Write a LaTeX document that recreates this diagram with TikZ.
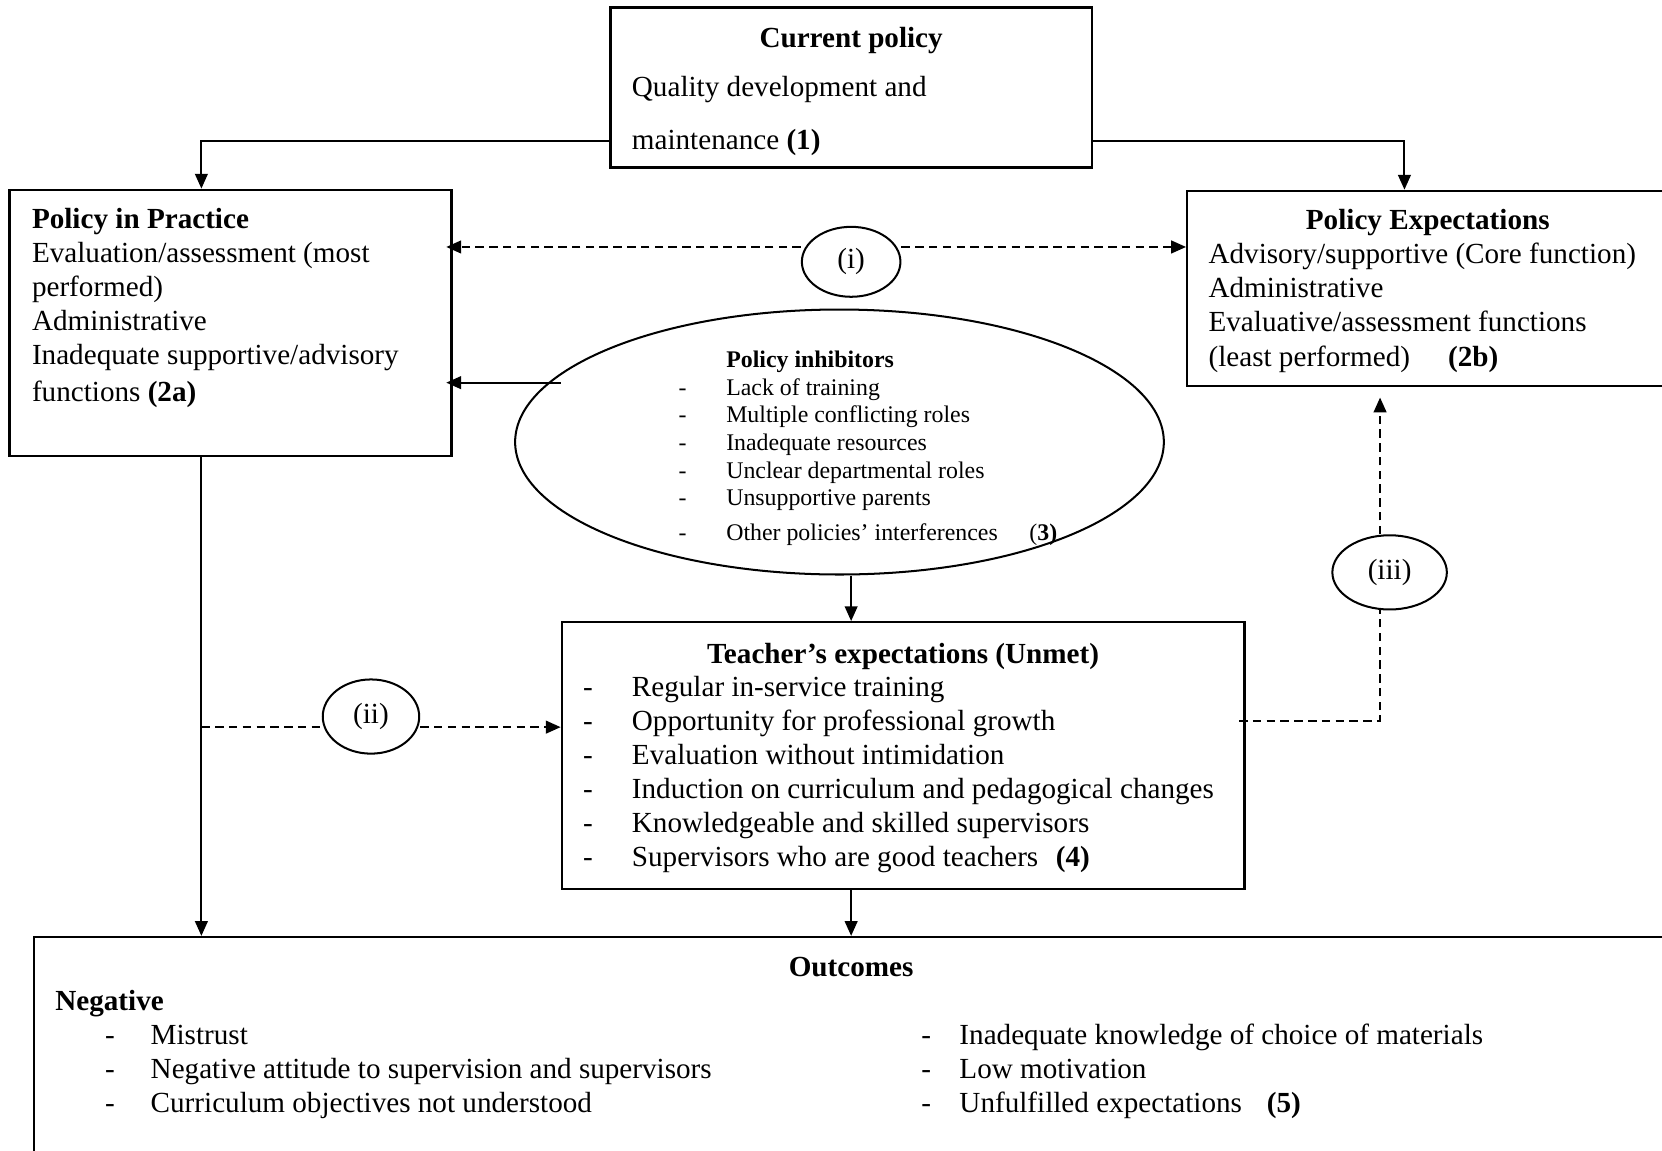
\documentclass[tikz,border=0pt]{standalone}
\usepackage{fontspec}
\setmainfont{Liberation Serif}
\usetikzlibrary{arrows.meta,shapes.geometric,calc}
\begin{document}
\begin{tikzpicture}[x=1pt,y=-1pt,
  box/.style={draw,line width=2.1pt,rectangle,inner sep=0pt},
  oval/.style={draw,line width=1.9pt,ellipse,inner sep=0pt,font=\fontsize{27.5}{32}\selectfont},
  arr/.style={line width=1.9pt,-{Triangle[length=14pt,width=12pt]}},
  dline/.style={line width=1.9pt,dash pattern=on 8pt off 5pt},
  darr/.style={dline,-{Triangle[length=14pt,width=12pt]}},
  tx/.style={anchor=west,inner sep=0pt,font=\fontsize{27.5}{32}\selectfont,text height=22pt,text depth=3pt},
  txb/.style={tx,font=\fontsize{27.5}{32}\selectfont\bfseries},
  sx/.style={anchor=west,inner sep=0pt,font=\fontsize{22.5}{26}\selectfont,text height=18pt,text depth=2pt},
  sxb/.style={sx,font=\fontsize{22.5}{26}\selectfont\bfseries}
]
\useasboundingbox (0,0) rectangle (1568,1085);

% ---------- boxes and ovals ----------
\node[box,minimum width=454pt,minimum height=151pt] (cur) at (803,82.5) {};
\node[box,minimum width=417pt,minimum height=251pt] (ppr) at (217.5,304.5) {};
\node[box,minimum width=480pt,minimum height=184pt] (pex) at (1360,272) {};
\node[oval,minimum width=612pt,minimum height=250pt] (inh) at (792,417) {};
\node[oval,minimum width=93pt,minimum height=66pt] (ci) at (803,247) {(i)};
\node[box,minimum width=644pt,minimum height=252pt] (tea) at (852,713) {};
\node[oval,minimum width=91pt,minimum height=70pt] (cii) at (350,676) {(ii)};
\node[oval,minimum width=108pt,minimum height=70pt] (ciii) at (1311,540) {(iii)};
\node[box,minimum width=1568pt,minimum height=232pt] (out) at (816,1000) {};

% ---------- texts: current policy ----------
\node[txb,anchor=center] (curT) at (803,35) {Current policy};
\node[tx] (cur1) at (596,82) {Quality development and};
\node[tx] (cur2) at (596,132) {maintenance \textbf{(1)}};

% ---------- policy in practice ----------
\node[txb] (pprT) at (30,206) {Policy in Practice};
\node[tx] (ppr1) at (30,238) {Evaluation/assessment (most};
\node[tx] (ppr2) at (30,270) {performed)};
\node[tx] (ppr3) at (30,302) {Administrative};
\node[tx] (ppr4) at (30,334) {Inadequate supportive/advisory};
\node[tx] (ppr5) at (30,369) {functions \textbf{(2a)}};

% ---------- policy expectations ----------
\node[txb,anchor=center] (pexT) at (1347,207) {Policy Expectations};
\node[tx] (pex1) at (1140,239) {Advisory/supportive (Core function)};
\node[tx] (pex2) at (1140,271) {Administrative};
\node[tx] (pex3) at (1140,303) {Evaluative/assessment functions};
\node[tx] (pex4) at (1140,336) {(least performed)};
\node[txb] (pex5) at (1366,336) {(2b)};

% ---------- policy inhibitors ----------
\node[sxb] (inhT) at (685,339) {Policy inhibitors};
\foreach \yy/\t [count=\i] in {365/Lack of training,391/Multiple conflicting roles,417/Inadequate resources,443/Unclear departmental roles,469/Unsupportive parents,502/Other policies’ interferences}{
  \node[sx] (inhd\i) at (640,\yy) {-};
  \node[sx] (inh\i) at (685,\yy) {\t};
}
\node[sx] (inhN) at (971,502) {(\textbf{3)}};

% ---------- teacher's expectations ----------
\node[txb,anchor=center] (teaT) at (852,616) {Teacher’s expectations (Unmet)};
\foreach \yy/\t [count=\i] in {648/Regular in-service training,680/Opportunity for professional growth,712/Evaluation without intimidation,744/Induction on curriculum and pedagogical changes,776/Knowledgeable and skilled supervisors,808/Supervisors who are good teachers}{
  \node[tx] (tead\i) at (550,\yy) {-};
  \node[tx] (tea\i) at (596,\yy) {\t};
}
\node[txb] (teaN) at (996,808) {(4)};

% ---------- outcomes ----------
\node[txb,anchor=center] (outT) at (803,912) {Outcomes};
\node[txb] (outN) at (52,944) {Negative};
\foreach \yy/\t [count=\i] in {976/Mistrust,1008/Negative attitude to supervision and supervisors,1040/Curriculum objectives not understood}{
  \node[tx] (outld\i) at (99,\yy) {-};
  \node[tx] (outl\i) at (142,\yy) {\t};
}
\foreach \yy/\t [count=\i] in {976/Inadequate knowledge of choice of materials,1008/Low motivation,1040/Unfulfilled expectations}{
  \node[tx] (outrd\i) at (869,\yy) {-};
  \node[tx] (outr\i) at (905,\yy) {\t};
}
\node[txb] (outR) at (1195,1040) {(5)};

% ---------- connectors ----------
\coordinate (cL) at ([yshift=26pt]cur.south west);
\coordinate (cR) at ([yshift=26pt]cur.south east);
\coordinate (pIn) at ([xshift=-27.5pt]ppr.north);
\coordinate (eIn) at ([xshift=-35pt]pex.north);
\draw[arr] (cL) -| (pIn);
\draw[arr] (cR) -| (eIn);

\coordinate (iL) at ([yshift=14pt]ci.west);
\coordinate (iR) at ([yshift=14pt]ci.east);
\draw[darr,shorten >=-6pt] (iL) -- (iL -| ppr.east);
\draw[darr] (iR) -- (iR -| pex.west);

\coordinate (inhL) at ([xshift=44pt,yshift=56pt]inh.west);
\draw[arr,shorten >=-6pt] (inhL) -- (inhL -| ppr.east);

\coordinate (inhB) at ([xshift=11pt]inh.south);
\draw[arr] (inhB) -- (inhB |- tea.north);

\coordinate (pOut) at ([xshift=-27.5pt]ppr.south);
\draw[arr] (pOut) -- (pOut |- out.north);

\coordinate (tOut) at ([xshift=-49pt]tea.south);
\draw[arr] (tOut) -- (tOut |- out.north);

\coordinate (iiL) at ([yshift=-10pt]cii.west);
\coordinate (iiR) at ([yshift=-10pt]cii.east);
\draw[dline] (pOut |- iiL) -- (iiL);
\draw[darr] (iiR) -- (iiR -| tea.west);

\coordinate (tR) at ([xshift=-6pt,yshift=33pt]tea.east);
\coordinate (vX) at ([xshift=-9pt]ciii.south);
\coordinate (vT) at ([xshift=-9pt]ciii.north);
\draw[dline] (tR) -| (vX);
\draw[darr,shorten >=10pt] (vT) -- (vT |- pex.south);
\end{tikzpicture}
\end{document}
